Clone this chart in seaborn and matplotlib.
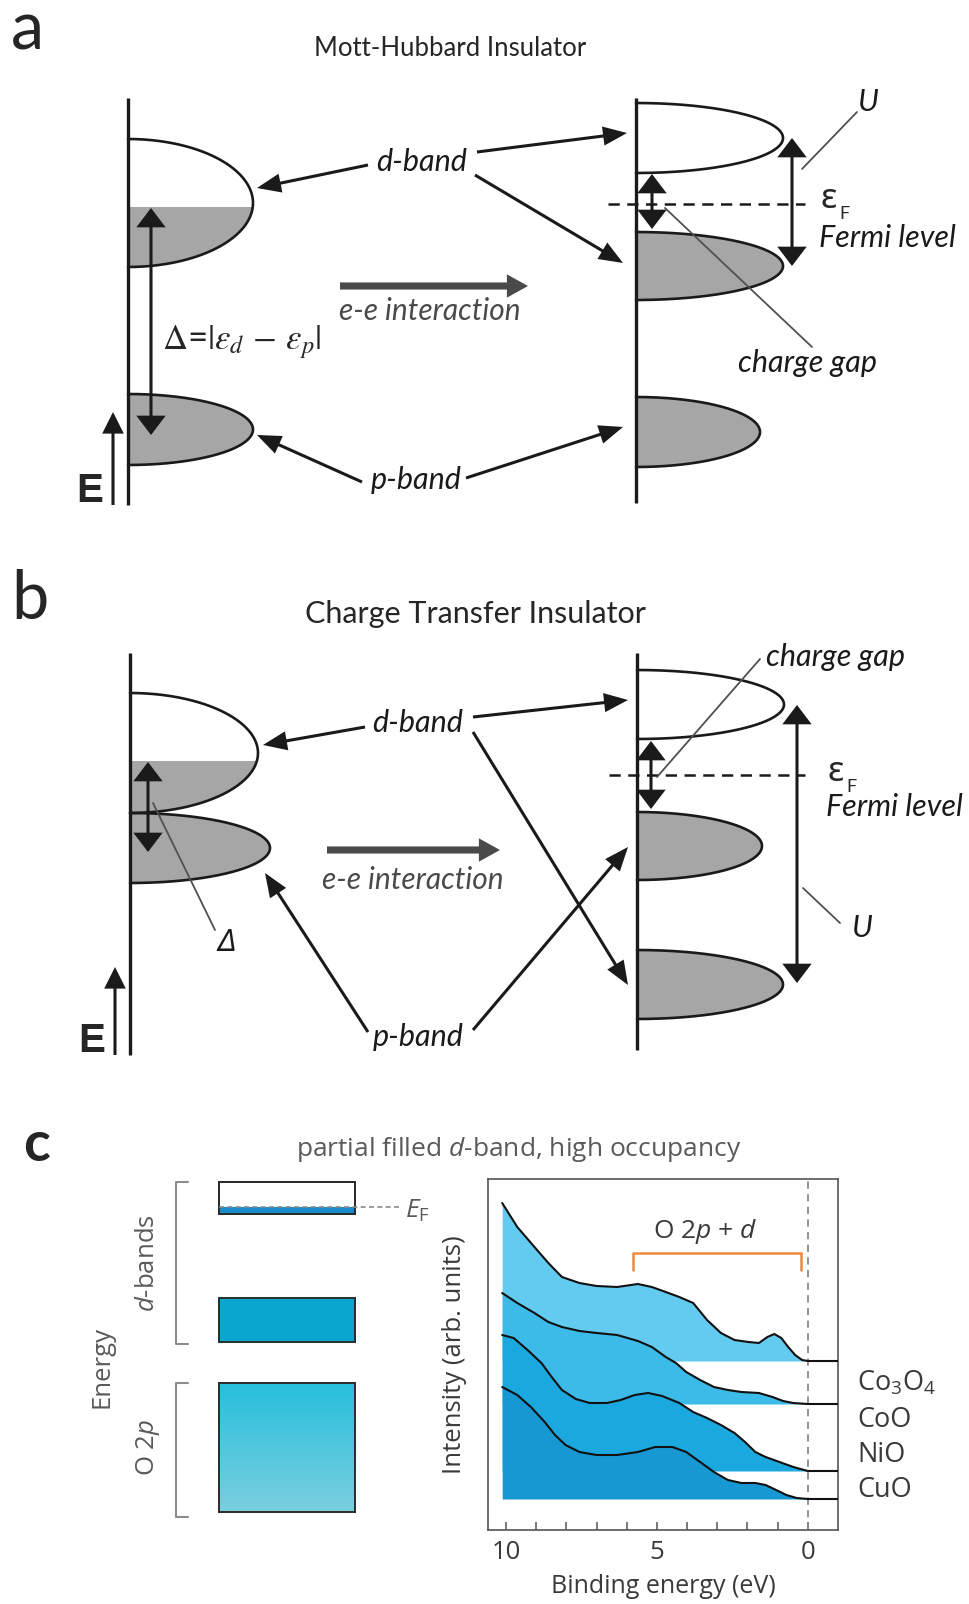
import numpy as np
import pandas as pd
import matplotlib
matplotlib.use("Agg")
import matplotlib.pyplot as plt
import seaborn as sns
from matplotlib.patches import Polygon, Rectangle, FancyArrowPatch

sns.set_theme(style="white")
plt.rcParams["font.family"] = ["Lato", "DejaVu Sans"]
plt.rcParams["mathtext.fontset"] = "custom"
plt.rcParams["mathtext.rm"] = "Open Sans"
plt.rcParams["mathtext.it"] = "Open Sans:italic"
plt.rcParams["mathtext.bf"] = "Open Sans:bold"

# ---------------------------------------------------------------- data
# Photoemission spectra (binding energy in eV, intensity in arb. units above each trace's offset)
compounds = ["Co$_3$O$_4$", "CoO", "NiO", "CuO"]
offsets = [170, 127, 60, 32]

energy_co3o4 = [10.13, 9.63, 9.06, 8.60, 8.15, 7.57, 7.00, 6.32, 5.63, 5.17, 4.71, 4.26, 3.80,
                3.34, 2.88, 2.43, 1.97, 1.62, 1.34, 1.11, 0.88, 0.65, 0.42, 0.19, 0.0, -1.0]
intensity_co3o4 = [158, 134, 114, 98, 84, 78, 75, 74, 77, 74, 69, 64, 58,
                   41, 28, 21, 19, 18, 24, 27, 23, 14, 6, 1, 0, 0]

energy_coo = [10.13, 9.63, 9.06, 8.60, 8.15, 7.57, 7.00, 6.32, 5.63, 5.17, 4.71, 4.37, 4.03,
              3.57, 3.11, 2.65, 2.20, 1.62, 1.17, 0.82, 0.48, 0.0, -1.0]
intensity_coo = [111, 101, 91, 82, 77, 73, 71, 69, 63, 57, 47, 41, 32,
                 24, 17, 14, 12, 11, 7, 3, 1, 0, 0]

energy_nio = [10.13, 9.75, 9.29, 8.83, 8.49, 8.15, 7.69, 7.23, 6.66, 6.20, 5.74, 5.29, 4.83,
              4.26, 3.80, 3.34, 2.88, 2.43, 2.08, 1.74, 1.40, 0.94, 0.48, 0.0, -1.0]
intensity_nio = [136, 133, 121, 108, 94, 81, 72, 68, 68, 71, 76, 78, 75,
                 68, 59, 53, 46, 38, 29, 19, 14, 9, 4, 0, 0]

energy_cuo = [10.13, 9.63, 9.18, 8.72, 8.38, 8.03, 7.57, 7.00, 6.32, 5.63, 5.06, 4.49, 4.03,
              3.57, 3.11, 2.65, 2.20, 1.74, 1.40, 1.05, 0.71, 0.37, 0.0, -1.0]
intensity_cuo = [112, 104, 92, 77, 64, 54, 47, 44, 44, 47, 52, 52, 47,
                 37, 27, 19, 16, 16, 14, 9, 4, 1, 0, 0]

fill_colors = ["#62CBEF", "#3CBAE8", "#1BA8DE", "#1898D3"]
o2p_d_range = [5.80, 0.23]
xtick_major = [10, 5, 0]
xtick_labels = ["10", "5", "0"]

# Schematic band lobes: (top, bottom, tip x, fill level or None, filled)
a_left_axis = (128, 98, 505)
a_left_bands = [(139, 267, 253, 207, True), (394, 465, 253, None, True)]
a_right_axis = (636, 98, 503)
a_right_bands = [(103, 173, 783, None, False), (232, 300, 783, None, True),
                 (397, 467, 760, None, True)]
b_left_axis = (130, 653, 1055)
b_left_bands = [(693, 813, 258, 761, True), (813, 883, 270, None, True)]
b_right_axis = (637, 653, 1050)
b_right_bands = [(670, 739, 784, None, False), (812, 880, 762, None, True),
                 (950, 1019, 783, None, True)]

# ---------------------------------------------------------------- figure
W, H = 970, 1604
fig = plt.figure(figsize=(W / 100, H / 100), dpi=100)
fig.patch.set_facecolor("white")
ax = fig.add_axes([0, 0, 1, 1])
ax.set_xlim(0, W)
ax.set_ylim(H, 0)
ax.axis("off")

BAND_GRAY = "#a6a6a6"
LEADER = "#505050"
LBL = 22


def draw_axis(x, y0, y1):
    ax.plot([x, x], [y0, y1], color="k", lw=2.4, zorder=3, solid_capstyle="butt")


def draw_lobe(x0, top, bottom, tip, fill_level, filled):
    yc = (top + bottom) / 2
    h = (bottom - top) / 2
    w = tip - x0
    t = np.linspace(-np.pi / 2, np.pi / 2, 300)
    xs = x0 + w * np.cos(t)
    ys = yc + h * np.sin(t)
    if filled:
        if fill_level is None:
            px = np.r_[x0, xs, x0]
            py = np.r_[top, ys, bottom]
        else:
            m = ys >= fill_level
            tl = np.arcsin((fill_level - yc) / h)
            xf = x0 + w * np.cos(tl)
            px = np.r_[x0, xf, xs[m], x0]
            py = np.r_[fill_level, fill_level, ys[m], bottom]
        ax.add_patch(Polygon(np.column_stack([px, py]), closed=True,
                             fc=BAND_GRAY, ec="none", zorder=2))
    ax.plot(xs, ys, color="k", lw=1.9, zorder=3)


def arrow(start, end, style="-|>,head_length=0.55,head_width=0.22", ms=24,
          lw=2.2, color="k", z=4):
    ax.add_patch(FancyArrowPatch(start, end, arrowstyle=style, mutation_scale=ms,
                                 lw=lw, color=color, shrinkA=0, shrinkB=0, zorder=z,
                                 joinstyle="miter", capstyle="butt"))


def double_arrow(x, y0, y1):
    arrow((x, y0), (x, y1), style="<|-|>,head_length=0.5,head_width=0.38",
          ms=22, lw=2.2)


def leader(p0, p1):
    ax.plot([p0[0], p1[0]], [p0[1], p1[1]], color=LEADER, lw=1.3, zorder=3)


def gray_arrow(x0, x1, y):
    ax.add_patch(FancyArrowPatch((x0, y), (x1, y),
                                 arrowstyle="simple,head_length=0.95,head_width=1.05,tail_width=0.32",
                                 mutation_scale=16, color="#4a4a4a", lw=0, zorder=4,
                                 shrinkA=0, shrinkB=0))


def label(x, y, s, size=LBL, ha="center", va="center", style="italic", color="k", **kw):
    ax.text(x, y, s, fontsize=size, ha=ha, va=va, style=style, color=color, **kw)


def eps_f(x, y):
    ax.text(x, y, "\u03b5", fontsize=25, family="Noto Sans", ha="left", va="baseline")
    ax.text(x + 18, y + 11, "F", fontsize=13, family="Lato", ha="left", va="baseline")


def energy_arrow(x, y0, y1, lx, ly):
    arrow((x, y0), (x, y1), style="-|>,head_length=0.6,head_width=0.3", ms=20, lw=2.2)
    ax.text(lx, ly, "E", fontsize=29, family="Liberation Sans", weight="bold",
            ha="center", va="baseline")


# ---------------- panel a : Mott-Hubbard insulator
ax.text(11, 50, "a", fontsize=48, ha="left", va="baseline")
ax.text(450, 49, "Mott-Hubbard Insulator", fontsize=18.5, ha="center", va="center")
draw_axis(*a_left_axis)
draw_axis(*a_right_axis)
for b in a_left_bands:
    draw_lobe(a_left_axis[0], *b)
for b in a_right_bands:
    draw_lobe(a_right_axis[0], *b)

double_arrow(151, 208, 435)
ax.text(162, 342, r"$\mathit{\Delta}$=$|\varepsilon_d\,-\,\varepsilon_p|$",
        fontsize=25, ha="left", va="center", math_fontfamily="stix")
energy_arrow(113, 505, 412, 90, 502)

label(422, 162, "d-band")
arrow((368, 165), (257, 188))
arrow((477, 152), (627, 133))
arrow((475, 175), (623, 263))
label(416, 480, "p-band")
arrow((362, 482), (257, 435))
arrow((466, 478), (623, 427))

gray_arrow(340, 528, 286)
label(430, 311, "e-e interaction", size=21.5, color="#4a4a4a")

ax.plot([608, 805], [204, 204], color="k", lw=1.8, ls=(0, (4.5, 3)), zorder=3)
double_arrow(652, 174, 229)
double_arrow(792, 138, 266)
leader((802, 169), (857, 112))
label(868, 102, "U")
eps_f(821, 208)
label(819, 238, "Fermi level", ha="left")
leader((665, 208), (812, 347))
label(808, 363, "charge gap")

# ---------------- panel b : charge transfer insulator
ax.text(11, 619, "b", fontsize=48, ha="left", va="baseline")
ax.text(475, 614, "Charge Transfer Insulator", fontsize=22, ha="center", va="center")
draw_axis(*b_left_axis)
draw_axis(*b_right_axis)
for b in b_left_bands:
    draw_lobe(b_left_axis[0], *b)
for b in b_right_bands:
    draw_lobe(b_right_axis[0], *b)

double_arrow(148, 762, 852)
leader((153, 803), (215, 930))
label(226, 943, "\u0394", family=["Noto Sans", "DejaVu Sans"])
energy_arrow(115, 1055, 967, 92, 1052)

label(418, 723, "d-band")
arrow((365, 727), (263, 745))
arrow((473, 717), (628, 700))
arrow((473, 732), (628, 985))
label(418, 1037, "p-band")
arrow((368, 1032), (265, 873))
arrow((473, 1030), (628, 847))

gray_arrow(327, 500, 850)
label(413, 880, "e-e interaction", size=21.5, color="#4a4a4a")

ax.plot([609, 805], [775, 775], color="k", lw=1.8, ls=(0, (4.5, 3)), zorder=3)
double_arrow(651, 741, 809)
double_arrow(797, 705, 983)
leader((657, 777), (760, 659))
label(766, 657, "charge gap", ha="left")
leader((803, 888), (840, 923))
label(862, 928, "U")
eps_f(828, 781)
label(826, 807, "Fermi level", ha="left")

# ---------------- panel c : schematic levels and spectra
TXT = "#3a3a3a"
GRAYTXT = "#5a5a5a"
ax.text(23, 1161, "c", fontsize=40, weight="bold", ha="left", va="baseline")
ax.text(519, 1149, r"partial filled $d$-band, high occupancy", fontsize=19,
        family="Open Sans", color=GRAYTXT, ha="center", va="center")

RX0, RX1 = 219, 355
# upper d-band with occupied sliver
ax.add_patch(Rectangle((RX0, 1182), RX1 - RX0, 32, fc="white", ec="#2b2b2b", lw=1.4, zorder=3))
ax.add_patch(Rectangle((RX0, 1207), RX1 - RX0, 7, fc="#1a8bc6", ec="none", zorder=3))
ax.add_patch(Rectangle((RX0, 1182), RX1 - RX0, 32, fc="none", ec="#2b2b2b", lw=1.4, zorder=4))
ax.plot([RX0, 400], [1207, 1207], color="#8a8a8a", lw=1.2, ls=(0, (3, 2)), zorder=5)
ax.text(405, 1211, r"$E_{\mathrm{F}}$", fontsize=19, family="Open Sans", color=GRAYTXT,
        ha="left", va="center")
# lower d-band
ax.add_patch(Rectangle((RX0, 1298), RX1 - RX0, 44, fc="#0aa6cf", ec="#2b2b2b", lw=1.4, zorder=3))
# O 2p band with vertical gradient
grad = np.linspace(0, 1, 256).reshape(-1, 1)
cmap = matplotlib.colors.LinearSegmentedColormap.from_list("o2p", ["#27BFDC", "#7ACFDF"])
ax.imshow(grad, cmap=cmap, extent=(RX0, RX1, 1512, 1383), aspect="auto", zorder=2,
          interpolation="bilinear")
ax.add_patch(Rectangle((RX0, 1383), RX1 - RX0, 129, fc="none", ec="#2b2b2b", lw=1.4, zorder=3))
ax.set_xlim(0, W)
ax.set_ylim(H, 0)

BR = "#8c8c8c"
for y0, y1 in [(1182, 1344), (1383, 1517)]:
    ax.plot([188, 176, 176, 188], [y0, y0, y1, y1], color=BR, lw=1.5, zorder=3)
ax.text(148, 1263, r"$d$-bands", rotation=90, fontsize=18.5, family="Open Sans",
        color=GRAYTXT, ha="center", va="center")
ax.text(148, 1447, r"O 2$p$", rotation=90, fontsize=18.5, family="Open Sans",
        color=GRAYTXT, ha="center", va="center")
ax.text(102, 1367, "Energy", rotation=90, fontsize=18.5, family="Open Sans",
        color=GRAYTXT, ha="center", va="center")

# spectra panel
AX_L, AX_R, AX_T, AX_B = 488, 838, 1179, 1530
sx = fig.add_axes([AX_L / W, 1 - AX_B / H, (AX_R - AX_L) / W, (AX_B - AX_T) / H])
sx.set_facecolor("white")

energies = [energy_co3o4, energy_coo, energy_nio, energy_cuo]
intensities = [intensity_co3o4, intensity_coo, intensity_nio, intensity_cuo]
frames = []
for name, e, i, off in zip(compounds, energies, intensities, offsets):
    frames.append(pd.DataFrame({"energy": e, "signal": np.asarray(i, float) + off,
                                "base": off, "compound": name}))
spectra = pd.concat(frames, ignore_index=True)

for k, (name, color) in enumerate(zip(compounds, fill_colors)):
    d = spectra[spectra["compound"] == name]
    sx.fill_between(d["energy"], d["base"], d["signal"], color=color, lw=0, zorder=2 + k)

sns.lineplot(data=spectra, x="energy", y="signal", hue="compound",
             palette={c: "#111111" for c in compounds}, sort=False, estimator=None,
             legend=False, lw=1.5, ax=sx, zorder=10)

sx.axvline(0, color="#8a8a8a", lw=1.3, ls=(0, (4, 3)), zorder=1)
bx0, bx1 = o2p_d_range
sx.plot([bx0, bx0, bx1, bx1], [261, 278, 278, 261], color="#F0883E", lw=1.8, zorder=11)
sx.text((bx0 + bx1) / 2 + 0.4, 300, r"O 2$p$ + $d$", fontsize=19, family="Open Sans",
        color=TXT, ha="center", va="center")

sx.set_xlim(10.6, -1.0)
sx.set_ylim(1, 352)
sx.set_yticks([])
sx.set_xticks(xtick_major)
sx.set_xticklabels(xtick_labels, fontsize=18.5, family="Open Sans", color=TXT)
sx.set_xticks(range(0, 11), minor=True)
sx.tick_params(axis="x", which="both", direction="in", length=6, width=1.1,
               color="#555555", bottom=True, top=False, pad=7)
for sp in sx.spines.values():
    sp.set_color("#555555")
    sp.set_linewidth(1.2)
sx.set_xlabel("Binding energy (eV)", fontsize=18, family="Open Sans", color=TXT, labelpad=7)
sx.set_ylabel("Intensity (arb. units)", fontsize=18.5, family="Open Sans", color=TXT, labelpad=15)

for name, y in zip(compounds, [1383, 1420, 1455, 1490]):
    ax.text(857, y, name, fontsize=19.5, family="Open Sans", color=TXT, ha="left", va="center")

fig.savefig("out.png", dpi=100, facecolor="white")
